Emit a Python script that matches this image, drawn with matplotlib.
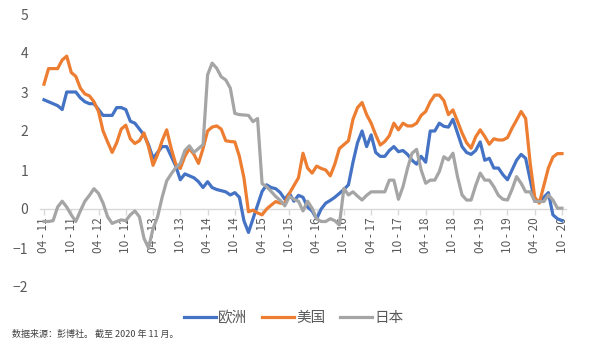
import numpy as np
import matplotlib
matplotlib.use("Agg")
import matplotlib.pyplot as plt

plt.rcParams['font.family'] = ['Noto Sans CJK SC', 'DejaVu Sans']

# monthly, 2011-04 .. 2020-10
europe = [2.8, 2.75, 2.7, 2.65, 2.55, 3.0, 3.0, 3.0, 2.85, 2.75,
          2.7, 2.7, 2.55, 2.4, 2.4, 2.4, 2.6, 2.6, 2.55, 2.25,
          2.2, 2.05, 1.9, 1.65, 1.3, 1.45, 1.6, 1.6, 1.35, 1.1,
          0.75, 0.9, 0.85, 0.8, 0.7, 0.55, 0.7, 0.55, 0.5, 0.47,
          0.44, 0.36, 0.42, 0.3, -0.3, -0.6, -0.25, 0.1, 0.45, 0.62,
          0.55, 0.52, 0.42, 0.25, 0.4, 0.2, 0.35, 0.3, 0.05, -0.05,
          -0.25, 0.0, 0.15, 0.22, 0.3, 0.4, 0.5, 0.62, 1.2, 1.7,
          2.0, 1.6, 1.9, 1.45, 1.35, 1.35, 1.5, 1.6, 1.47, 1.5,
          1.4, 1.25, 1.15, 1.35, 1.2, 2.0, 2.0, 2.2, 2.12, 2.1,
          2.3, 1.95, 1.6, 1.45, 1.4, 1.5, 1.72, 1.25, 1.3, 1.05,
          1.05, 0.88, 0.75, 1.0, 1.25, 1.4, 1.3, 0.75, 0.2, 0.2,
          0.3, 0.42, -0.15, -0.25, -0.3]

usa = [3.2, 3.6, 3.6, 3.6, 3.82, 3.92, 3.5, 3.4, 3.1, 2.95,
       2.9, 2.75, 2.5, 2.0, 1.72, 1.45, 1.7, 2.05, 2.15, 1.8,
       1.68, 1.75, 1.95, 1.6, 1.12, 1.4, 1.75, 2.03, 1.55, 1.15,
       1.04, 1.35, 1.55, 1.4, 1.17, 1.55, 2.0, 2.1, 2.13, 2.05,
       1.75, 1.73, 1.72, 1.35, 0.8, -0.07, -0.03, -0.1, -0.15, 0.0,
       0.1, 0.19, 0.15, 0.15, 0.4, 0.6, 0.8, 1.43, 1.05, 0.92,
       1.1, 1.04, 1.0, 0.85, 1.15, 1.55, 1.65, 1.75, 2.3, 2.6,
       2.73, 2.42, 2.2, 1.9, 1.64, 1.73, 1.88, 2.2, 2.03, 2.2,
       2.13, 2.13, 2.2, 2.4, 2.5, 2.75, 2.92, 2.92, 2.78, 2.42,
       2.54, 2.25, 1.95, 1.7, 1.56, 1.85, 2.03, 1.86, 1.66, 1.8,
       1.77, 1.77, 1.83, 2.07, 2.28, 2.5, 2.32, 1.17, 0.3, 0.15,
       0.6, 1.05, 1.33, 1.42, 1.42]

japan = [-0.32, -0.32, -0.3, 0.05, 0.2, 0.05, -0.15, -0.32, -0.05, 0.2,
         0.35, 0.52, 0.4, 0.15, -0.2, -0.37, -0.32, -0.28, -0.3, -0.15,
         -0.05, -0.2, -0.75, -1.0, -0.5, -0.2, 0.3, 0.72, 0.9, 1.06,
         1.17, 1.5, 1.62, 1.45, 1.55, 1.65, 3.44, 3.74, 3.61, 3.39,
         3.31, 3.1, 2.45, 2.42, 2.41, 2.4, 2.24, 2.32, 0.65, 0.57,
         0.45, 0.32, 0.22, 0.08, 0.32, 0.25, 0.2, -0.05, 0.2, 0.02,
         -0.25, -0.32, -0.32, -0.25, -0.3, -0.41, 0.53, 0.36, 0.44, 0.33,
         0.23, 0.35, 0.44, 0.44, 0.44, 0.44, 0.74, 0.74, 0.25, 0.57,
         1.04, 1.43, 1.53, 1.0, 0.66, 0.74, 0.74, 0.96, 1.34, 1.26,
         1.43, 0.83, 0.36, 0.23, 0.23, 0.6, 0.92, 0.74, 0.74, 0.57,
         0.35, 0.25, 0.23, 0.5, 0.83, 0.66, 0.44, 0.44, 0.2, 0.19,
         0.19, 0.36, 0.23, 0.02, 0.02]

tick_labels = ['04 - 11', '10 - 11', '04 - 12', '10 - 12', '04 - 13',
               '10 - 13', '04 - 14', '10 - 14', '04 - 15', '10 - 15',
               '04 - 16', '10 - 16', '04 - 17', '10 - 17', '04 - 18',
               '10 - 18', '04 - 19', '10 - 19', '04 - 20', '10 - 20']

series_names = ['欧洲', '美国', '日本']
colors = ['#4472C4', '#ED7D31', '#A5A5A5']
txt = '#595959'

fig = plt.figure(figsize=(5.91, 3.53), dpi=100)
ax = fig.add_axes([40 / 591, 1 - 287 / 353, 526 / 591, 273 / 353])

x = np.arange(len(europe))
for vals, name, c in zip([europe, usa, japan], series_names, colors):
    ax.plot(x, vals, color=c, lw=2.3, label=name, solid_joinstyle='round')

ax.set_xlim(-0.88, 114.88)
ax.set_ylim(-2, 5)
ax.set_yticks(range(-2, 6))
ax.tick_params(axis='y', length=0, pad=8.5, labelsize=10, labelcolor=txt)

for s in ['top', 'right', 'left']:
    ax.spines[s].set_visible(False)
ax.spines['bottom'].set_position(('data', 0))
ax.spines['bottom'].set_color('#D9D9D9')
ax.spines['bottom'].set_linewidth(1.0)
ax.spines['bottom'].set_zorder(0)

ax.set_xticks(np.arange(0, len(europe), 6))
ax.set_xticklabels(tick_labels, rotation=90)
ax.tick_params(axis='x', direction='out', length=4, width=1, color='#D9D9D9',
               pad=2, labelsize=8.5, labelcolor=txt)

fig.legend(loc='center', bbox_to_anchor=(0.497, 0.099), ncol=3, frameon=False,
           fontsize=10.5, labelcolor=txt, handlelength=2.2, handletextpad=0.15,
           columnspacing=1.0)

fig.text(12 / 591, 1 - 334 / 353, '数据来源：彭博社。 截至 2020 年 11 月。',
         fontsize=6.5, color='#404040', va='center', ha='left')

fig.savefig('out.png', dpi=100)
